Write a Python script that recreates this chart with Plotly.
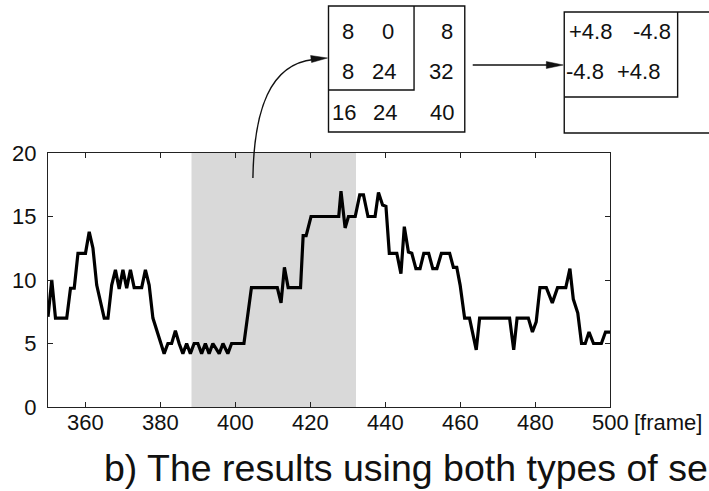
import plotly.graph_objects as go

# Tracked value per frame (vertices of the polyline)
frames = [350, 351, 352, 355, 356, 357, 358, 360, 361, 362, 363, 365, 366, 367,
          368, 369, 370, 371, 372, 373, 375, 376, 377, 378, 381, 382, 383, 384,
          385, 386, 387, 388, 389, 390, 391, 392, 393, 394, 395.7, 396.7, 398,
          399, 402.3, 404.3, 411.2, 412.2, 413.1, 414.1, 417.4, 418.1, 418.9,
          420.2, 427.6, 428.2, 429.3, 430.2, 432, 433.2, 434.2, 435.4, 437.3,
          438.2, 439.3, 440.2, 441.1, 443.1, 444.2, 445.1, 446.2, 447.1, 448.2,
          449.3, 450.3, 451.6, 452.7, 453.8, 455, 457.2, 458.2, 459.1, 460,
          461.2, 462.5, 464.3, 465.2, 473.2, 474.3, 475.2, 478.2, 479.3, 480.3,
          481.3, 483, 484.6, 486, 488.2, 489.3, 490.2, 491.4, 492.4, 493.4,
          494.4, 495.6, 497.7, 498.8, 500]
values = [7.1, 10.0, 7.0, 7.0, 9.35, 9.35, 12.1, 12.1, 13.8, 12.5, 9.6, 7.0, 7.0, 9.6,
          10.8, 9.3, 10.8, 9.35, 10.8, 9.4, 9.4, 10.8, 9.6, 7.0, 4.2, 5.0, 5.0, 6.0,
          5.0, 4.2, 5.0, 4.2, 5.0, 5.0, 4.2, 5.0, 4.2, 5.0, 4.2, 5.0, 4.2,
          5.0, 5.0, 9.4, 9.4, 8.2, 11.0, 9.4, 9.4, 13.5, 13.5,
          15.0, 15.0, 17.0, 14.1, 15.0, 15.0, 16.7, 16.7, 15.0, 15.0,
          16.9, 15.9, 15.8, 12.1, 12.1, 10.5, 14.2, 12.2, 12.1, 10.9,
          10.9, 12.1, 12.1, 10.9, 10.9, 12.1, 12.1, 11.0, 11.0, 9.6,
          7.0, 7.0, 4.5, 7.0, 7.0, 4.5, 7.0, 7.0, 5.9, 6.7,
          9.4, 9.4, 8.2, 9.4, 9.4, 10.9, 8.5, 7.4, 5.0, 5.0,
          5.9, 5.0, 5.0, 5.9, 5.9]

# Highlighted interval
span_start, span_end = 388.3, 432.2

x_ticks = [360, 380, 400, 420, 440, 460, 480, 500]
y_ticks = [0, 5, 10, 15, 20]

# Count tables shown above the plot
counts_rows = [["8", "0", "8"], ["8", "24", "32"], ["16", "24", "40"]]
residual_rows = [["+4.8", "-4.8"], ["-4.8", "+4.8"]]

FONT = "Liberation Sans, Arial, Helvetica, sans-serif"

W, H = 709, 491
L, R, T, B = 45, 610, 153, 407


def px(x):
    return (x - L) / (R - L)


def py(y):
    return (B - y) / (B - T)


fig = go.Figure()
fig.add_trace(go.Scatter(x=frames, y=values, mode="lines",
                         line=dict(color="black", width=3.2),
                         hoverinfo="skip", showlegend=False))

shapes = [
    dict(type="rect", xref="x", yref="paper", x0=span_start, x1=span_end,
         y0=0, y1=1, fillcolor="#d9d9d9", line=dict(width=0), layer="below"),
]

box = dict(color="#111", width=1.4)
# left table: outer and inner box
shapes.append(dict(type="rect", xref="paper", yref="paper",
                   x0=px(327), x1=px(464), y0=py(132), y1=py(6), line=box))
shapes.append(dict(type="path", xref="paper", yref="paper",
                   path=f"M{px(327)},{py(90)} L{px(413)},{py(90)} L{px(413)},{py(6)}",
                   line=box))
# right table (runs off the edge)
shapes.append(dict(type="rect", xref="paper", yref="paper",
                   x0=px(564), x1=px(760), y0=py(133), y1=py(12), line=box))
shapes.append(dict(type="path", xref="paper", yref="paper",
                   path=f"M{px(564)},{py(97)} L{px(678)},{py(97)} L{px(678)},{py(12)}",
                   line=box))

# curved arrow from the highlighted interval up to the left table
shapes.append(dict(type="path", xref="paper", yref="paper",
                   path=(f"M{px(251)},{py(178)} C{px(252)},{py(110)} "
                         f"{px(268)},{py(64)} {px(312)},{py(59.5)}"),
                   line=dict(color="#111", width=1.4)))
shapes.append(dict(type="path", xref="paper", yref="paper",
                   path=(f"M{px(326)},{py(58)} L{px(309)},{py(55.5)} "
                         f"L{px(310)},{py(62.5)} Z"),
                   fillcolor="#111", line=dict(color="#111", width=0.5)))
# straight arrow between the tables
shapes.append(dict(type="line", xref="paper", yref="paper",
                   x0=px(472), x1=px(552), y0=py(65), y1=py(65),
                   line=dict(color="#111", width=1.4)))
shapes.append(dict(type="path", xref="paper", yref="paper",
                   path=(f"M{px(563)},{py(65)} L{px(546)},{py(61.5)} "
                         f"L{px(546)},{py(68.5)} Z"),
                   fillcolor="#111", line=dict(color="#111", width=0.5)))

annotations = []
tfont = dict(family=FONT, size=22, color="#111")
# left table cells: centre x per row, row y
cell_x = [[347, 387, 446], [347, 383, 440], [343, 384, 441]]
row_y = [32, 72, 112]
for r, row in enumerate(counts_rows):
    for c, txt in enumerate(row):
        annotations.append(dict(text=txt, xref="paper", yref="paper",
                                x=px(cell_x[r][c]), y=py(row_y[r]), showarrow=False,
                                xanchor="center", yanchor="middle", font=tfont))
res_x = [[590, 652], [585, 639]]
for r, row in enumerate(residual_rows):
    for c, txt in enumerate(row):
        annotations.append(dict(text=txt, xref="paper", yref="paper",
                                x=px(res_x[r][c]), y=py(row_y[r]), showarrow=False,
                                xanchor="center", yanchor="middle", font=tfont))

# x tick labels, placed tight under the axis
lab_font = dict(family=FONT, size=22, color="#111")
for t in x_ticks:
    annotations.append(dict(text=str(t), xref="x", yref="paper", x=t, y=py(422),
                            showarrow=False, xanchor="center", yanchor="middle",
                            font=lab_font))
annotations.append(dict(text="[frame]", xref="paper", yref="paper",
                        x=px(632), y=py(422), showarrow=False,
                        xanchor="left", yanchor="middle", font=lab_font))
annotations.append(dict(text="b) The results using both types of se",
                        xref="paper", yref="paper", x=px(99), y=py(468),
                        showarrow=False, xanchor="left", yanchor="middle",
                        font=dict(family=FONT, size=37.5, color="#111")))

axis_common = dict(showline=True, linecolor="#222", linewidth=1.2, mirror="ticks",
                   ticks="inside", ticklen=5, tickcolor="#222", tickwidth=1,
                   showgrid=False, zeroline=False)

fig.update_layout(
    width=W, height=H,
    margin=dict(l=L, r=W - R, t=T, b=H - B, pad=0),
    paper_bgcolor="white", plot_bgcolor="white",
    xaxis=dict(range=[350, 500], tickvals=x_ticks, showticklabels=False, **axis_common),
    yaxis=dict(range=[0, 20], tickvals=y_ticks, ticklabelstandoff=6,
               tickfont=lab_font, **axis_common),
    shapes=shapes, annotations=annotations,
)

fig.write_html("out.html")
